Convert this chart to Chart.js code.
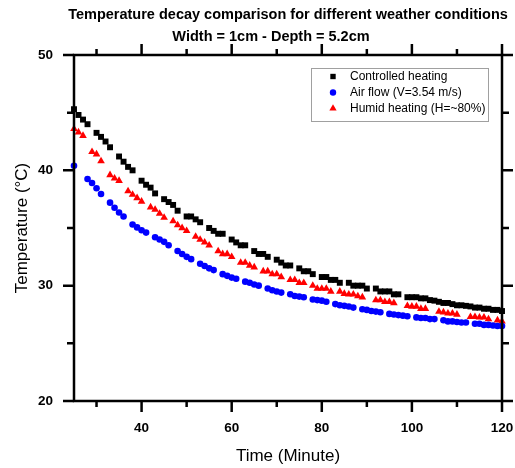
<!DOCTYPE html>
<html>
<head>
<meta charset="utf-8">
<script src="https://cdn.jsdelivr.net/npm/chart.js@4.4.1/dist/chart.umd.min.js"></script>
<style>
  body { margin: 0; background: #fff; }
  #wrap { width: 515px; height: 468px; }
</style>
</head>
<body>
<div id="wrap"><canvas id="decay-chart" width="515" height="468"></canvas></div>
<script>
// readings, one slot per minute (null = no reading logged)
const minutes = [
  25, 26, 27, 28, 29, 30, 31, 32, 33, 34,
  35, 36, 37, 38, 39, 40, 41, 42, 43, 44,
  45, 46, 47, 48, 49, 50, 51, 52, 53, 54,
  55, 56, 57, 58, 59, 60, 61, 62, 63, 64,
  65, 66, 67, 68, 69, 70, 71, 72, 73, 74,
  75, 76, 77, 78, 79, 80, 81, 82, 83, 84,
  85, 86, 87, 88, 89, 90, 91, 92, 93, 94,
  95, 96, 97, 98, 99, 100, 101, 102, 103, 104,
  105, 106, 107, 108, 109, 110, 111, 112, 113, 114,
  115, 116, 117, 118, 119, 120
];

const controlled = [
  45.3, 44.8, 44.4, 44.0, null, 43.25, 42.9, 42.5, 42.0, null,
  41.2, 40.75, 40.3, 40.0, null, 39.1, 38.75, 38.5, 38.0, null,
  37.5, 37.25, 37.0, 36.5, null, 36.0, 36.0, 35.75, 35.5, null,
  35.0, 34.75, 34.5, 34.5, null, 34.0, 33.75, 33.5, 33.5, null,
  33.0, 32.75, 32.75, 32.5, null, 32.25, 32.0, 31.75, 31.75, null,
  31.5, 31.25, 31.25, 31.0, null, 30.75, 30.75, 30.5, 30.5, 30.25,
  null, 30.25, 30.0, 30.0, 30.0, 29.75, null, 29.75, 29.5, 29.5,
  29.5, 29.25, 29.25, null, 29.0, 29.0, 29.0, 28.9, 28.9, 28.75,
  28.7, 28.6, 28.5, 28.5, 28.4, 28.3, 28.3, 28.25, 28.2, 28.1,
  28.1, 28.0, 28.0, 27.9, 27.9, 27.8
];

const airFlow = [
  40.4, null, null, 39.25, 38.9, 38.45, 37.95, null, 37.2, 36.75,
  36.35, 36.0, null, 35.3, 35.05, 34.8, 34.6, null, 34.2, 34.0,
  33.8, 33.5, null, 33.0, 32.75, 32.5, 32.3, null, 31.9, 31.7,
  31.5, 31.35, null, 31.0, 30.85, 30.7, 30.6, null, 30.35, 30.25,
  30.1, 30.0, null, 29.75, 29.6, 29.5, 29.4, null, 29.25, 29.1,
  29.05, 29.0, null, 28.8, 28.75, 28.7, 28.6, null, 28.4, 28.3,
  28.25, 28.2, 28.1, null, 27.95, 27.9, 27.8, 27.75, 27.7, null,
  27.55, 27.5, 27.45, 27.4, 27.35, null, 27.25, 27.2, 27.2, 27.1,
  27.1, null, 27.0, 26.9, 26.9, 26.85, 26.8, 26.8, null, 26.7,
  26.7, 26.6, 26.6, 26.55, 26.5, 26.5
];

const humid = [
  43.6, 43.3, 43.0, null, 41.6, 41.4, 40.8, null, 39.6, 39.3,
  39.1, null, 38.2, 37.9, 37.6, 37.3, null, 36.8, 36.6, 36.25,
  35.9, null, 35.6, 35.25, 35.0, 34.75, null, 34.25, 34.0, 33.75,
  33.5, null, 33.0, 32.75, 32.75, 32.5, null, 32.0, 32.0, 31.75,
  31.6, null, 31.25, 31.25, 31.0, 31.0, 30.75, null, 30.5, 30.5,
  30.25, 30.25, null, 30.0, 29.75, 29.75, 29.75, 29.5, null, 29.5,
  29.3, 29.25, 29.25, 29.1, 29.0, null, null, 28.75, 28.75, 28.6,
  28.6, 28.5, null, null, 28.25, 28.2, 28.2, 28.0, 28.0, null,
  null, 27.75, 27.7, 27.6, 27.6, 27.5, null, null, 27.3, 27.3,
  27.25, 27.25, 27.1, null, 27.0, 26.9
];

const seriesNames = ['Controlled heating', 'Air flow (V=3.54 m/s)', 'Humid heating (H=~80%)'];
const titleLines = ['Temperature decay comparison for different weather conditions', 'Width = 1cm - Depth = 5.2cm'];

const xMajor = [40, 60, 80, 100, 120];
const xMinor = [30, 50, 70, 90, 110];
const yMajor = [20, 30, 40, 50];
const yMinor = [25, 35, 45];

const FONT = "'Liberation Sans', Arial, sans-serif";

const toPoints = vals => minutes
  .map((m, i) => ({ x: m, y: vals[i] }))
  .filter(p => p.y !== null);

// box around the plot, with outward major/minor ticks on all four sides
const frameTicks = {
  id: 'frameTicks',
  afterDatasetsDraw(chart) {
    const { ctx, chartArea: a, scales: { x, y } } = chart;
    ctx.save();
    ctx.strokeStyle = '#000';
    ctx.lineWidth = 2.5;
    ctx.strokeRect(a.left, a.top, a.right - a.left, a.bottom - a.top);
    ctx.beginPath();
    const xt = (v, len) => {
      const px = x.getPixelForValue(v);
      ctx.moveTo(px, a.bottom); ctx.lineTo(px, a.bottom + len);
      ctx.moveTo(px, a.top); ctx.lineTo(px, a.top - len);
    };
    const yt = (v, len) => {
      const py = y.getPixelForValue(v);
      ctx.moveTo(a.left, py); ctx.lineTo(a.left - len, py);
      ctx.moveTo(a.right, py); ctx.lineTo(a.right + len, py);
    };
    xMajor.forEach(v => xt(v, 11));
    xMinor.forEach(v => xt(v, 6));
    yMajor.forEach(v => yt(v, 11));
    yMinor.forEach(v => yt(v, 7));
    ctx.stroke();
    ctx.restore();
  }
};

// two-line heading and the boxed legend
const annotations = {
  id: 'annotations',
  afterDraw(chart) {
    const { ctx } = chart;
    ctx.save();
    ctx.fillStyle = '#000';
    ctx.textBaseline = 'middle';
    ctx.textAlign = 'center';
    ctx.font = 'bold 14.5px ' + FONT;
    ctx.fillText(titleLines[0], 288, 15);
    ctx.fillText(titleLines[1], 271, 37);

    const box = { left: 311.5, top: 68.5, w: 177, h: 53 };
    ctx.strokeStyle = '#a0a0a0';
    ctx.lineWidth = 1;
    ctx.strokeRect(box.left, box.top, box.w, box.h);

    ctx.textAlign = 'left';
    ctx.font = '12px ' + FONT;
    const rows = [76.5, 92.5, 108.5];
    chart.data.datasets.forEach((ds, i) => {
      ctx.fillStyle = ds.backgroundColor;
      Chart.helpers.drawPoint(ctx, {
        pointStyle: ds.pointStyle,
        radius: ds.legendRadius,
        rotation: 0,
        borderWidth: 0
      }, 333, rows[i]);
      ctx.fillStyle = '#000';
      ctx.fillText(seriesNames[i], 350, rows[i]);
    });
    ctx.restore();
  }
};

new Chart(document.getElementById('decay-chart'), {
  type: 'scatter',
  data: {
    datasets: [
      {
        label: seriesNames[0],
        data: toPoints(controlled),
        pointStyle: 'rect',
        pointRadius: 4.2,
        legendRadius: 3.8,
        backgroundColor: '#000000',
        borderWidth: 0,
        clip: false
      },
      {
        label: seriesNames[1],
        data: toPoints(airFlow),
        pointStyle: 'circle',
        pointRadius: 3.3,
        legendRadius: 3.2,
        backgroundColor: '#0000ff',
        borderWidth: 0,
        clip: false
      },
      {
        label: seriesNames[2],
        data: toPoints(humid),
        pointStyle: 'triangle',
        pointRadius: 4.4,
        legendRadius: 4.2,
        backgroundColor: '#ff0000',
        borderWidth: 0,
        clip: false
      }
    ]
  },
  options: {
    responsive: false,
    animation: false,
    layout: { padding: { left: 0, top: 55, right: 13, bottom: 0 } },
    plugins: {
      legend: { display: false },
      title: { display: false },
      tooltip: { enabled: false }
    },
    scales: {
      x: {
        type: 'linear',
        min: 25,
        max: 120,
        afterBuildTicks: s => { s.ticks = xMajor.map(v => ({ value: v })); },
        afterFit: s => { s.height = 67; s.paddingLeft = 0; s.paddingRight = 0; },
        grid: { display: false },
        border: { display: false },
        ticks: {
          color: '#000',
          padding: 11,
          maxRotation: 0,
          font: { family: FONT, size: 13.5, weight: 'bold' }
        },
        title: {
          display: true,
          text: 'Time (Minute)',
          color: '#000',
          padding: { top: 4, bottom: 1 },
          font: { family: FONT, size: 17 }
        }
      },
      y: {
        type: 'linear',
        min: 20,
        max: 50,
        afterBuildTicks: s => { s.ticks = yMajor.map(v => ({ value: v })); },
        afterFit: s => { s.width = 74; s.paddingTop = 0; s.paddingBottom = 0; },
        grid: { display: false },
        border: { display: false },
        ticks: {
          color: '#000',
          padding: 13,
          font: { family: FONT, size: 13.5, weight: 'bold' }
        },
        title: {
          display: true,
          text: 'Temperature (°C)',
          color: '#000',
          padding: { top: 12, bottom: 0 },
          font: { family: FONT, size: 17 }
        }
      }
    }
  },
  plugins: [frameTicks, annotations]
});
</script>
</body>
</html>
